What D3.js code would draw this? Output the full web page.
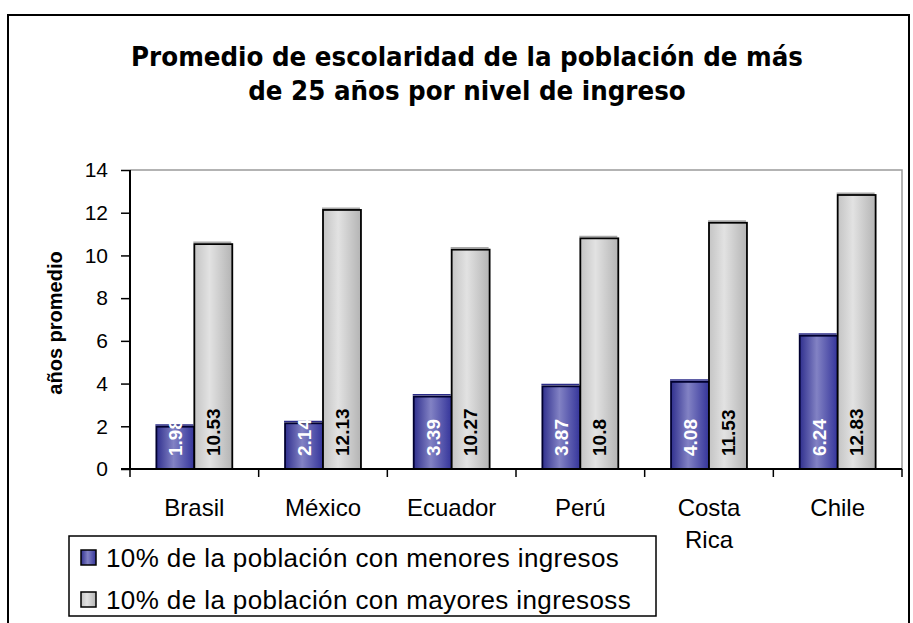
<!DOCTYPE html>
<html>
<head>
<meta charset="utf-8">
<script src="https://cdn.jsdelivr.net/npm/d3@7"></script>
<style>
  html, body { margin: 0; padding: 0; background: #fff; }
  svg { display: block; }
</style>
</head>
<body>
<svg id="chart" width="913" height="623"></svg>
<script>
const titleLines = ["Promedio de escolaridad de la población de más", "de 25 años por nivel de ingreso"];
const yAxisLabel = "años promedio";
const categories = ["Brasil", "México", "Ecuador", "Perú", "Costa Rica", "Chile"];
const seriesNames = ["10% de la población con menores ingresos", "10% de la población con mayores ingresoss"];
const lowIncome = [1.98, 2.14, 3.39, 3.87, 4.08, 6.24];
const highIncome = [10.53, 12.13, 10.27, 10.8, 11.53, 12.83];
const yTicks = [0, 2, 4, 6, 8, 10, 12, 14];

const svg = d3.select("#chart");
const plot = { left: 130, right: 902, top: 170, bottom: 469 };
const SANS = "'Liberation Sans', Arial, sans-serif";

// outer chart border
svg.append("rect").attr("x", 8).attr("y", 15).attr("width", 901).attr("height", 640)
  .attr("fill", "#fff").attr("stroke", "#000").attr("stroke-width", 2);

// gradients
const defs = svg.append("defs");
const gBlue = defs.append("linearGradient").attr("id", "gBlue").attr("x1", "0").attr("x2", "1").attr("y1", "0").attr("y2", "0");
[[0, "#30308e"], [0.45, "#8282c4"], [1, "#34349a"]].forEach(s => gBlue.append("stop").attr("offset", s[0]).attr("stop-color", s[1]));
const gGray = defs.append("linearGradient").attr("id", "gGray").attr("x1", "0").attr("x2", "1").attr("y1", "0").attr("y2", "0");
[[0, "#c4c4c4"], [0.4, "#e2e2e2"], [1, "#b4b4b4"]].forEach(s => gGray.append("stop").attr("offset", s[0]).attr("stop-color", s[1]));
const fills = ["url(#gBlue)", "url(#gGray)"];
const strokes = ["#000030", "#000"];
const rims = ["#2a2a88", "#a8a8a8"];
const labelColors = ["#fff", "#000"];

// title
const title = svg.append("text").attr("text-anchor", "middle")
  .attr("font-family", "'DejaVu Sans Condensed', 'DejaVu Sans', sans-serif")
  .attr("font-weight", "bold").attr("font-stretch", "condensed").attr("font-size", 24).attr("fill", "#000");
titleLines.forEach((t, i) => title.append("tspan").attr("x", 467).attr("y", 66 + i * 34).text(t));
const l1 = title.select("tspan").node().getComputedTextLength();
title.attr("font-size", (24 * 672 / l1).toFixed(2));

// scales
const x0 = d3.scaleBand().domain(categories).range([plot.left, plot.right]).paddingInner(0).paddingOuter(0);
const x1 = d3.scaleBand().domain([0, 1]).range([0, x0.bandwidth()]).paddingInner(0).paddingOuter(0.695);
const y = d3.scaleLinear().domain([0, 14]).range([plot.bottom, plot.top]);

// plot area border (top & right, gray)
svg.append("path").attr("d", `M${plot.left},${plot.top}H${plot.right}V${plot.bottom}`)
  .attr("fill", "none").attr("stroke", "#9a9a9a").attr("stroke-width", 1.5);

// bars
const data = categories.map((c, i) => ({ c, vals: [lowIncome[i], highIncome[i]] }));
const groups = svg.append("g").selectAll("g").data(data).join("g")
  .attr("transform", d => `translate(${x0(d.c)},0)`);
const bars = d => d.vals.map((v, k) => ({ v, k }));
// rim line just above each bar top
groups.selectAll("line.rim").data(bars).join("line").attr("class", "rim")
  .attr("x1", d => x1(d.k) - 1).attr("x2", d => x1(d.k) + x1.bandwidth() - 1)
  .attr("y1", d => y(d.v) - 1.8).attr("y2", d => y(d.v) - 1.8)
  .attr("stroke", d => rims[d.k]).attr("stroke-width", 1.5);
groups.selectAll("rect").data(bars).join("rect")
  .attr("x", d => x1(d.k)).attr("width", x1.bandwidth())
  .attr("y", d => y(d.v)).attr("height", d => y(0) - y(d.v))
  .attr("fill", d => fills[d.k]).attr("stroke", d => strokes[d.k]).attr("stroke-width", 1.8);
groups.selectAll("text").data(bars).join("text")
  .attr("transform", d => `translate(${x1(d.k) + x1.bandwidth() / 2},${plot.bottom - 13}) rotate(-90)`)
  .attr("dy", "0.36em")
  .attr("font-family", SANS).attr("font-weight", "bold").attr("font-size", 19)
  .attr("fill", d => labelColors[d.k])
  .text(d => String(d.v));

// y axis
const yAxis = svg.append("g").attr("transform", `translate(${plot.left},0)`)
  .call(d3.axisLeft(y).tickValues(yTicks).tickSize(9).tickPadding(13).tickFormat(d3.format("d")));
yAxis.select(".domain").attr("stroke", "#000").attr("stroke-width", 2).attr("d", `M0,${plot.top}V${plot.bottom}`);
yAxis.selectAll(".tick line").attr("stroke", "#000").attr("stroke-width", 1.5);
yAxis.selectAll(".tick text").attr("font-family", SANS).attr("font-size", 21).attr("fill", "#000");

// x axis
const xAxisG = svg.append("g").attr("transform", `translate(0,${plot.bottom})`);
xAxisG.append("line").attr("x1", plot.left - 9).attr("x2", plot.right).attr("stroke", "#000").attr("stroke-width", 2);
const bounds = categories.map(c => x0(c)).concat([plot.right]);
xAxisG.selectAll("line.tk").data(bounds).join("line").attr("class", "tk")
  .attr("x1", d => d).attr("x2", d => d).attr("y1", 0).attr("y2", 8)
  .attr("stroke", "#000").attr("stroke-width", 1.5);
xAxisG.selectAll("text.cat").data(categories).join("text").attr("class", "cat")
  .attr("text-anchor", "middle")
  .attr("font-family", SANS).attr("font-size", 24).attr("fill", "#000")
  .each(function (c) {
    const t = d3.select(this);
    c.split(" ").forEach((w, i) => t.append("tspan").attr("x", x0(c) + x0.bandwidth() / 2).attr("y", 47 + i * 32).text(w));
  });

// y axis label
svg.append("text").attr("transform", `translate(55,323) rotate(-90)`).attr("text-anchor", "middle")
  .attr("dy", "0.35em")
  .attr("font-family", SANS).attr("font-weight", "bold").attr("font-size", 20)
  .text(yAxisLabel);

// legend
const lg = svg.append("g");
lg.append("rect").attr("x", 69).attr("y", 536).attr("width", 587).attr("height", 80)
  .attr("fill", "#fff").attr("stroke", "#000").attr("stroke-width", 1.5);
seriesNames.forEach((s, i) => {
  const yy = 550 + i * 42;
  lg.append("rect").attr("x", 81).attr("y", yy).attr("width", 15).attr("height", 15)
    .attr("fill", fills[i]).attr("stroke", "#000").attr("stroke-width", 1.5);
  lg.append("text").attr("x", 106).attr("y", yy + 17).attr("font-family", SANS)
    .attr("font-size", 26).attr("letter-spacing", 0.4).attr("fill", "#000").text(s);
});
</script>
</body>
</html>
